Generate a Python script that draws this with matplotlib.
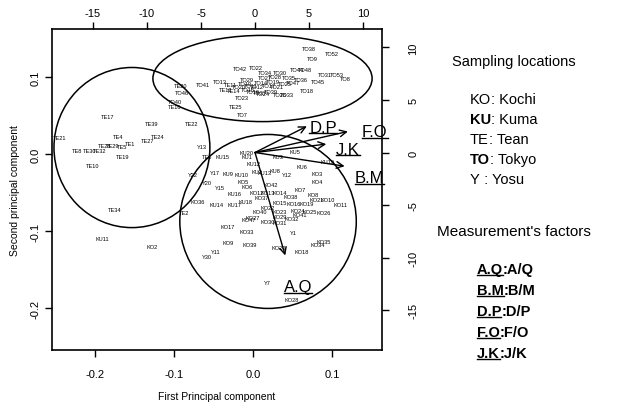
import matplotlib.pyplot as plt
from matplotlib.patches import Ellipse
from matplotlib.lines import Line2D
from matplotlib.transforms import IdentityTransform

plt.rcParams['font.family'] = ['Liberation Sans', 'DejaVu Sans']
plt.rcParams['axes.unicode_minus'] = False

# sample scores (first / second principal component)
to_names = ['TO38', 'TO52', 'TO9', 'TO42', 'TO22', 'TO44', 'TO48', 'TO34', 'TO30', 'TO31',
            'TO53', 'TO8', 'TO45', 'TO47', 'TO13', 'TO41', 'TO18', 'TO26', 'TO33', 'TO24',
            'TO23', 'TO7', 'TO46', 'TO40', 'TO10', 'TO11', 'TO12', 'TO14', 'TO15', 'TO16',
            'TO17', 'TO19', 'TO20', 'TO21', 'TO25', 'TO27', 'TO28', 'TO29', 'TO35', 'TO36',
            'TO37', 'TO39']
to_pc1 = [0.071, 0.099, 0.075, -0.016, 0.004, 0.056, 0.065, 0.015, 0.034, 0.091,
          0.106, 0.116, 0.082, 0.051, -0.042, -0.063, 0.068, 0.034, 0.043, 0.013,
          -0.014, -0.013, -0.090, -0.099, -0.010, -0.003, 0.005, 0.010, -0.006, 0.000,
          0.020, 0.025, -0.018, 0.030, 0.040, 0.015, 0.028, -0.008, 0.045, 0.060,
          0.008, 0.022]
to_pc2 = [0.138, 0.131, 0.125, 0.112, 0.113, 0.110, 0.110, 0.106, 0.106, 0.104,
          0.104, 0.099, 0.095, 0.094, 0.095, 0.091, 0.083, 0.078, 0.078, 0.079,
          0.074, 0.052, 0.081, 0.069, 0.092, 0.090, 0.088, 0.093, 0.085, 0.082,
          0.090, 0.095, 0.088, 0.088, 0.092, 0.100, 0.101, 0.097, 0.100, 0.098,
          0.080, 0.082]

te_names = ['TE11', 'TE12', 'TE14', 'TE25', 'TE20', 'TE16', 'TE17', 'TE39', 'TE22', 'TE21',
            'TE4', 'TE24', 'TE27', 'TE1', 'TE5', 'TE8', 'TE30', 'TE32', 'TE28', 'TE29',
            'TE19', 'TE10', 'TE6', 'TE2', 'TE34']
te_pc1 = [-0.029, -0.035, -0.025, -0.022, -0.092, -0.099, -0.184, -0.128, -0.077, -0.244,
          -0.171, -0.120, -0.133, -0.156, -0.166, -0.223, -0.206, -0.194, -0.187, -0.178,
          -0.165, -0.203, -0.058, -0.087, -0.175]
te_pc2 = [0.091, 0.085, 0.083, 0.062, 0.090, 0.062, 0.049, 0.040, 0.040, 0.022,
          0.023, 0.023, 0.018, 0.014, 0.010, 0.005, 0.005, 0.005, 0.012, 0.012,
          -0.003, -0.014, -0.003, -0.075, -0.071]

ku_names = ['KU15', 'KU20', 'KU1', 'KU5', 'KU3', 'KU19', 'KU12', 'KU6', 'KU2', 'KU8',
            'KU13', 'KU9', 'KU10', 'KU16', 'KU14', 'KU17', 'KU18', 'KU11']
ku_pc1 = [-0.039, -0.008, -0.008, 0.053, 0.032, 0.094, 0.000, 0.062, 0.005, 0.028,
          0.015, -0.032, -0.014, -0.023, -0.046, -0.023, -0.010, -0.190]
ku_pc2 = [-0.003, 0.003, -0.003, 0.004, -0.003, -0.009, -0.012, -0.016, -0.022, -0.021,
          -0.023, -0.025, -0.026, -0.051, -0.065, -0.065, -0.061, -0.109]

ko_names = ['KO36', 'KO2', 'KO17', 'KO9', 'KO3', 'KO4', 'KO5', 'KO6', 'KO7', 'KO8',
            'KO10', 'KO11', 'KO12', 'KO13', 'KO14', 'KO15', 'KO16', 'KO19', 'KO21', 'KO22',
            'KO23', 'KO24', 'KO25', 'KO26', 'KO27', 'KO29', 'KO30', 'KO31', 'KO32', 'KO47',
            'KO33', 'KO39', 'KO20', 'KO18', 'KO35', 'KO34', 'KO28', 'KO37', 'KO38', 'KO40',
            'KO41', 'KO42']
ko_pc1 = [-0.070, -0.127, -0.032, -0.032, 0.081, 0.081, -0.013, -0.008, 0.059, 0.076,
          0.094, 0.110, 0.005, 0.019, 0.034, 0.034, 0.051, 0.068, 0.081, 0.018,
          0.034, 0.056, 0.072, 0.089, 0.000, 0.034, 0.018, 0.034, 0.049, -0.006,
          -0.008, -0.004, 0.032, 0.062, 0.089, 0.082, 0.049, 0.011, 0.047, 0.009,
          0.059, 0.022]
ko_pc2 = [-0.061, -0.119, -0.094, -0.114, -0.025, -0.035, -0.035, -0.042, -0.045, -0.052,
          -0.058, -0.065, -0.049, -0.049, -0.049, -0.062, -0.064, -0.064, -0.058, -0.069,
          -0.074, -0.073, -0.074, -0.075, -0.082, -0.081, -0.087, -0.088, -0.083, -0.084,
          -0.100, -0.117, -0.121, -0.126, -0.113, -0.117, -0.188, -0.056, -0.055, -0.074,
          -0.078, -0.039]

y_names = ['Y13', 'Y22', 'Y20', 'Y17', 'Y12', 'Y15', 'Y1', 'Y11', 'Y30', 'Y7']
y_pc1 = [-0.065, -0.076, -0.058, -0.048, 0.043, -0.042, 0.051, -0.047, -0.058, 0.018]
y_pc2 = [0.010, -0.026, -0.036, -0.023, -0.026, -0.043, -0.101, -0.126, -0.132, -0.166]

# group ellipses (TO, TE, KO/KU/Y) in score units
ell_cx = [0.012, -0.153, 0.019]
ell_cy = [0.0987, 0.009, -0.087]
ell_w = [0.277, 0.197, 0.223]
ell_h = [0.112, 0.208, 0.226]

# loadings (top / right axes)
factors = ['A.Q', 'B.M', 'D.P', 'F.O', 'J.K']
factor_desc = ['A/Q', 'B/M', 'D/P', 'F/O', 'J/K']
load_x = [2.8, 8.3, 4.8, 8.6, 6.6]
load_y = [-9.8, -1.3, 2.5, 2.0, 0.8]
lab_x = [4.0, 10.6, 6.3, 11.1, 8.6]
lab_y = [-12.8, -2.4, 2.4, 2.0, 0.3]

locations = ['KO', 'KU', 'TE', 'TO', 'Y']
location_names = [': Kochi', ': Kuma', ': Tean', ': Tokyo', ' : Yosu']
location_bold = [False, True, False, True, False]

W, H = 624, 406
fig = plt.figure(figsize=(W / 100, H / 100), dpi=100)
pos = [52 / W, 1 - 351 / H, 330 / W, 321 / H]
ax = fig.add_axes(pos)
ax.set_xlim(-0.254, 0.163)
ax.set_ylim(-0.254, 0.163)

groups = [(to_names, to_pc1, to_pc2), (te_names, te_pc1, te_pc2),
          (ku_names, ku_pc1, ku_pc2), (ko_names, ko_pc1, ko_pc2),
          (y_names, y_pc1, y_pc2)]
for names, xs, ys in groups:
    for n, x, y in zip(names, xs, ys):
        ax.text(x, y, n, fontsize=4.1, ha='center', va='center')

for cx, cy, w, h in zip(ell_cx, ell_cy, ell_w, ell_h):
    ax.add_patch(Ellipse((cx, cy), w, h, fill=False, ec='black', lw=1.1))

ax.set_xticks([-0.2, -0.1, 0.0, 0.1])
ax.set_xticklabels(['-0.2', '-0.1', '0.0', '0.1'])
ax.set_yticks([-0.2, -0.1, 0.0, 0.1])
ax.set_yticklabels(['-0.2', '-0.1', '0.0', '0.1'], rotation=90, va='center')
ax.tick_params(direction='out', length=5, width=1, labelsize=8)
ax.tick_params(axis='x', pad=9)
ax.tick_params(axis='y', pad=3)
for s in ax.spines.values():
    s.set_linewidth(1.2)
ax.set_xlabel('First Principal component', fontsize=7.5, labelpad=8)
ax.set_ylabel('Second principal component', fontsize=7.5, labelpad=8)

ax2 = fig.add_axes(pos, frameon=False)
ax2.patch.set_visible(False)
ax2.set_xlim(-18.8, 11.76)
ax2.set_ylim(-18.8, 11.76)
ax2.xaxis.tick_top()
ax2.yaxis.tick_right()
ax2.set_xticks([-15, -10, -5, 0, 5, 10])
ax2.set_xticklabels(['-15', '-10', '-5', '0', '5', '10'])
ax2.set_yticks([-15, -10, -5, 0, 5, 10])
ax2.set_yticklabels(['-15', '-10', '-5', '0', '5', '10'], rotation=90, va='center')
ax2.tick_params(direction='out', length=5, width=1, labelsize=8)
ax2.tick_params(axis='x', pad=3)
ax2.tick_params(axis='y', pad=14)

for tx, ty in zip(load_x, load_y):
    ax2.annotate('', xy=(tx, ty), xytext=(0, 0),
                 arrowprops=dict(arrowstyle='->', lw=1, color='black',
                                 shrinkA=0, shrinkB=0, mutation_scale=12))

arrow_labels = []
for f, lx, ly in zip(factors, lab_x, lab_y):
    t = ax2.text(lx, ly, f, fontsize=12, ha='center', va='center', clip_on=False)
    arrow_labels.append(t)

# right-hand notes
fig.text(514 / W, 1 - 62 / H, 'Sampling locations', ha='center', va='center', fontsize=10.5)
fig.text(514 / W, 1 - 232 / H, "Measurement's factors", ha='center', va='center', fontsize=11)

fig.canvas.draw()
r = fig.canvas.get_renderer()


def underline(t, off=1.5):
    bb = t.get_window_extent(renderer=r)
    fig.add_artist(Line2D([bb.x0, bb.x1], [bb.y0 + off, bb.y0 + off],
                          transform=IdentityTransform(), color='black', lw=1))


for t in arrow_labels:
    underline(t)

for i, (code, name) in enumerate(zip(locations, location_names)):
    yy = 1 - (100 + 20 * i) / H
    t1 = fig.text(470 / W, yy, code, fontsize=10.5, va='center',
                  weight='bold' if location_bold[i] else 'normal')
    bb = t1.get_window_extent(renderer=r)
    fig.text(bb.x1 / W, yy, name, fontsize=10.5, va='center')

for i, (code, desc) in enumerate(zip(factors, factor_desc)):
    yy = 1 - (270 + 21 * i) / H
    t1 = fig.text(477 / W, yy, code, fontsize=10.5, va='center', weight='bold')
    bb = t1.get_window_extent(renderer=r)
    fig.text(bb.x1 / W, yy, ':' + desc, fontsize=10.5, va='center', weight='bold')
    underline(t1)

fig.savefig('out.png', dpi=100)
